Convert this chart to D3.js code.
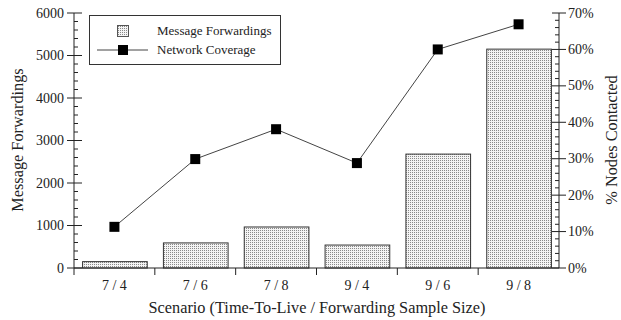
<!DOCTYPE html>
<html>
<head>
<meta charset="utf-8">
<script src="https://cdn.jsdelivr.net/npm/d3@7"></script>
<style>
  body { margin: 0; background: #fff; }
</style>
</head>
<body>
<svg id="chart" width="621" height="320"></svg>
<script>
// data
let scenarios = ["7 / 4", "7 / 6", "7 / 8", "9 / 4", "9 / 6", "9 / 8"];
let forwardings = [150, 590, 965, 540, 2680, 5150];
let coverage = [11.3, 29.9, 38.1, 28.8, 60.0, 66.9];
let leftTicks = [0, 1000, 2000, 3000, 4000, 5000, 6000];
let rightTicks = [0, 10, 20, 30, 40, 50, 60, 70];

let serif = "'Liberation Serif', 'Times New Roman', Times, 'DejaVu Serif', serif";
let chart = d3.select("#chart")
    .attr("font-family", serif);
let plotLeft = 74, plotRight = 559, plotTop = 13, plotBottom = 268;

// dotted fill for the bars
let defs = chart.append("defs");
let pat = defs.append("pattern")
    .attr("id", "dots")
    .attr("patternUnits", "userSpaceOnUse")
    .attr("width", 2).attr("height", 2);
pat.append("rect").attr("width", 2).attr("height", 2).attr("fill", "#f4f4f4");
pat.append("rect").attr("width", 1).attr("height", 1).attr("fill", "#8a8a8a");

//x,y scales
let x = d3.scaleBand()
    .range([plotLeft, plotRight])
    .domain(scenarios)
    .paddingInner(0.2)
    .paddingOuter(0.1);

let y = d3.scaleLinear()
    .range([plotBottom, plotTop])
    .domain([0, 6000]);

let y2 = d3.scaleLinear()
    .range([plotBottom, plotTop])
    .domain([0, 70]);

//bars
chart.selectAll("rect.bar")
    .data(forwardings)
    .enter()
    .append("rect")
        .attr("class", "bar")
        .attr("x", function(d, i) { return x(scenarios[i]) + 0.5; })
        .attr("y", function(d) { return y(d); })
        .attr("width", x.bandwidth())
        .attr("height", function(d) { return plotBottom - y(d); })
        .attr("fill", "url(#dots)")
        .attr("stroke", "#333")
        .attr("stroke-width", 1);

//coverage line
let line = d3.line()
    .x(function(d, i) { return x(scenarios[i]) + x.bandwidth() / 2; })
    .y(function(d) { return y2(d); });

chart.append("path")
    .datum(coverage)
    .attr("d", line)
    .attr("fill", "none")
    .attr("stroke", "#444")
    .attr("stroke-width", 1);

chart.selectAll("rect.mark")
    .data(coverage)
    .enter()
    .append("rect")
        .attr("class", "mark")
        .attr("x", function(d, i) { return x(scenarios[i]) + x.bandwidth() / 2 - 5; })
        .attr("y", function(d) { return y2(d) - 5; })
        .attr("width", 10)
        .attr("height", 10)
        .attr("fill", "#000");

//left axis with crossing major ticks and inner minor ticks
let gl = chart.append("g").attr("transform", "translate(" + plotLeft + ",0)");
gl.append("line").attr("x1", 0).attr("x2", 0).attr("y1", plotTop).attr("y2", plotBottom).attr("stroke", "#222");
gl.selectAll("line.minor")
    .data(d3.range(0, 6001, 200).filter(function(v) { return v % 1000 != 0; }))
    .enter().append("line")
        .attr("x1", 0).attr("x2", 4)
        .attr("y1", function(d) { return y(d); })
        .attr("y2", function(d) { return y(d); })
        .attr("stroke", "#222");
gl.selectAll("line.major")
    .data(leftTicks)
    .enter().append("line")
        .attr("x1", -7).attr("x2", 8)
        .attr("y1", function(d) { return y(d); })
        .attr("y2", function(d) { return y(d); })
        .attr("stroke", "#222");
gl.selectAll("text.lab")
    .data(leftTicks)
    .enter().append("text")
        .attr("text-anchor", "end")
        .attr("font-size", "14px")
        .attr("fill", "#222")
        .attr("x", -10)
        .attr("y", function(d) { return y(d) + 4.5; })
        .text(function(d) { return d; });

//right axis
let gr = chart.append("g").attr("transform", "translate(" + plotRight + ",0)");
gr.append("line").attr("x1", 0).attr("x2", 0).attr("y1", plotTop).attr("y2", plotBottom).attr("stroke", "#222");
gr.selectAll("line.minor")
    .data(d3.range(0, 71, 2).filter(function(v) { return v % 10 != 0; }))
    .enter().append("line")
        .attr("x1", -4).attr("x2", 0)
        .attr("y1", function(d) { return y2(d); })
        .attr("y2", function(d) { return y2(d); })
        .attr("stroke", "#222");
gr.selectAll("line.major")
    .data(rightTicks)
    .enter().append("line")
        .attr("x1", -7).attr("x2", 7)
        .attr("y1", function(d) { return y2(d); })
        .attr("y2", function(d) { return y2(d); })
        .attr("stroke", "#222");
gr.selectAll("text.lab")
    .data(rightTicks)
    .enter().append("text")
        .attr("font-size", "14px")
        .attr("fill", "#222")
        .attr("x", 9)
        .attr("y", function(d) { return y2(d) + 4.5; })
        .text(function(d) { return d + "%"; });

//bottom axis
let gb = chart.append("g").attr("transform", "translate(0," + plotBottom + ")");
gb.append("line").attr("x1", plotLeft).attr("x2", plotRight).attr("stroke", "#222");
gb.selectAll("line.sep")
    .data(scenarios)
    .enter().append("line")
        .attr("x1", function(d) { return x(d) - x.step() * x.paddingInner() / 2; })
        .attr("x2", function(d) { return x(d) - x.step() * x.paddingInner() / 2; })
        .attr("y1", 0).attr("y2", 7)
        .attr("stroke", "#222");
gb.selectAll("text.cat")
    .data(scenarios)
    .enter().append("text")
        .attr("text-anchor", "middle")
        .attr("font-size", "14px")
        .attr("fill", "#222")
        .attr("x", function(d) { return x(d) + x.bandwidth() / 2; })
        .attr("y", 22)
        .text(function(d) { return d; });

//axis titles
chart.append("text")
    .attr("text-anchor", "middle")
    .attr("font-size", "16.3px")
    .attr("fill", "#222")
    .attr("x", 317)
    .attr("y", 313)
    .text("Scenario (Time-To-Live / Forwarding Sample Size)");

chart.append("text")
    .attr("text-anchor", "middle")
    .attr("font-size", "16.3px")
    .attr("fill", "#222")
    .attr("transform", "translate(23,140) rotate(-90)")
    .text("Message Forwardings");

chart.append("text")
    .attr("text-anchor", "middle")
    .attr("font-size", "16.3px")
    .attr("fill", "#222")
    .attr("transform", "translate(617,140) rotate(-90)")
    .text("% Nodes Contacted");

//legend
let lg = chart.append("g");
lg.append("rect")
    .attr("x", 89.5).attr("y", 15.5)
    .attr("width", 191).attr("height", 49)
    .attr("fill", "#fff")
    .attr("stroke", "#333");
lg.append("rect")
    .attr("x", 117.5).attr("y", 25.5)
    .attr("width", 11).attr("height", 11)
    .attr("fill", "url(#dots)")
    .attr("stroke", "#555");
lg.append("line")
    .attr("x1", 97).attr("x2", 148)
    .attr("y1", 50).attr("y2", 50)
    .attr("stroke", "#444");
lg.append("rect")
    .attr("x", 118).attr("y", 45)
    .attr("width", 10).attr("height", 10)
    .attr("fill", "#000");
lg.append("text")
    .attr("font-size", "13px")
    .attr("fill", "#222")
    .attr("x", 157).attr("y", 35)
    .text("Message Forwardings");
lg.append("text")
    .attr("font-size", "13px")
    .attr("fill", "#222")
    .attr("x", 157).attr("y", 54)
    .text("Network Coverage");
</script>
</body>
</html>
